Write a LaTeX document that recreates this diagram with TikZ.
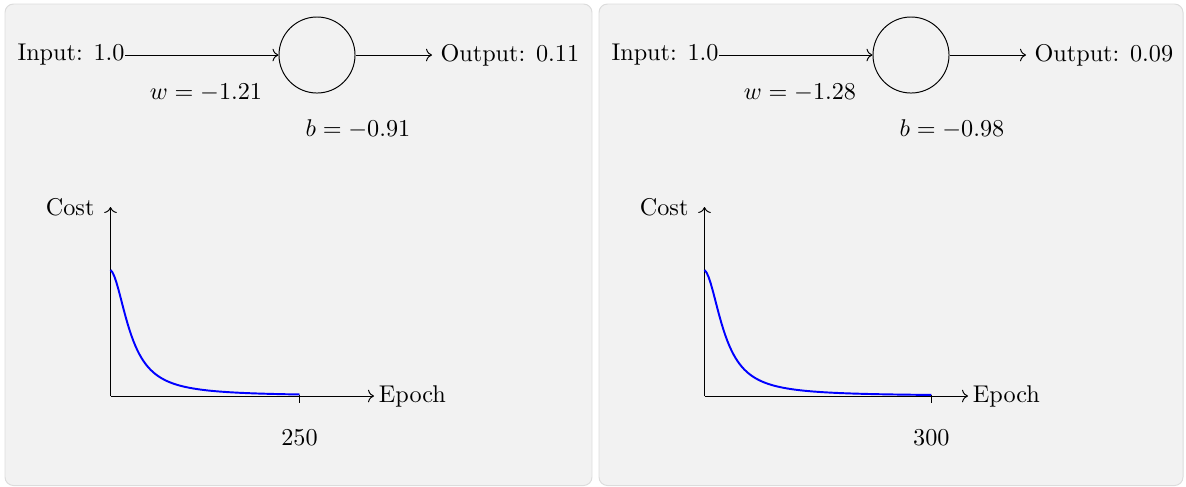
\documentclass[tikz,border=0pt]{standalone}
\usetikzlibrary{arrows.meta,positioning}
\definecolor{panelgray}{HTML}{F2F2F2}
\definecolor{panelline}{HTML}{DCDCDC}

\begin{document}
\begin{tikzpicture}[x=0.413pt,y=-0.413pt,
 panel/.style={draw=panelline,fill=panelgray,rounded corners=3.5pt},
 neuron/.style={draw,circle,minimum size=31.4pt,inner sep=0pt},
 ax/.style={->},
 costcurve/.style={blue,thick}]
\useasboundingbox (0,0) rectangle (1186,486);
\draw[panel] (5,4) rectangle (592,485.5);
\draw[panel] (599,4) rectangle (1183,485.5);
% first run: 250 epochs
\node[anchor=east,inner xsep=0pt] (inL) at (125,55) {Input: 1.0};
\node[neuron] (neuronL) at (317,55) {};
\node[anchor=west] (outL) at (432,55) {Output: 0.11};
\draw[ax] (inL)--(neuronL);
\draw[ax] (neuronL)--(outL);
\node (wL) at (206,92.5) {$w = -1.21$};
\node (bL) at (358,129.5) {$b = -0.91$};
\coordinate (originL) at (110.5,396);
\coordinate (ytipL) at (110.5,207);
\coordinate (xtipL) at (374,396);
\draw[ax] (originL)--(ytipL);
\draw[ax] (originL)--(xtipL);
\node[anchor=east] (costL) at (103,207) {Cost};
\node[right,xshift=-1.5pt] (epochL) at (xtipL) {Epoch};
\draw[costcurve] plot[domain=0:250,samples=100] ({110.5+0.756*\x},{396-126/(1+0.004*\x+(\x/28)^2)});
\draw (299.5,395)--(299.5,403);
\node (tickL) at (299.5,438) {250};
% second run: 300 epochs
\begin{scope}[shift={(594,0)}]
\node[anchor=east,inner xsep=0pt] (inR) at (125,55) {Input: 1.0};
\node[neuron] (neuronR) at (317,55) {};
\node[anchor=west] (outR) at (432,55) {Output: 0.09};
\draw[ax] (inR)--(neuronR);
\draw[ax] (neuronR)--(outR);
\node (wR) at (206,92.5) {$w = -1.28$};
\node (bR) at (358,129.5) {$b = -0.98$};
\coordinate (originR) at (110.5,396);
\coordinate (ytipR) at (110.5,207);
\coordinate (xtipR) at (374,396);
\draw[ax] (originR)--(ytipR);
\draw[ax] (originR)--(xtipR);
\node[anchor=east] (costR) at (103,207) {Cost};
\node[right,xshift=-1.5pt] (epochR) at (xtipR) {Epoch};
\draw[costcurve] plot[domain=0:300,samples=110] ({110.5+0.756*\x},{396-126/(1+0.004*\x+(\x/28)^2)});
\draw (337.3,395)--(337.3,403);
\node (tickR) at (337.3,438) {300};
\end{scope}
\end{tikzpicture}
\end{document}
